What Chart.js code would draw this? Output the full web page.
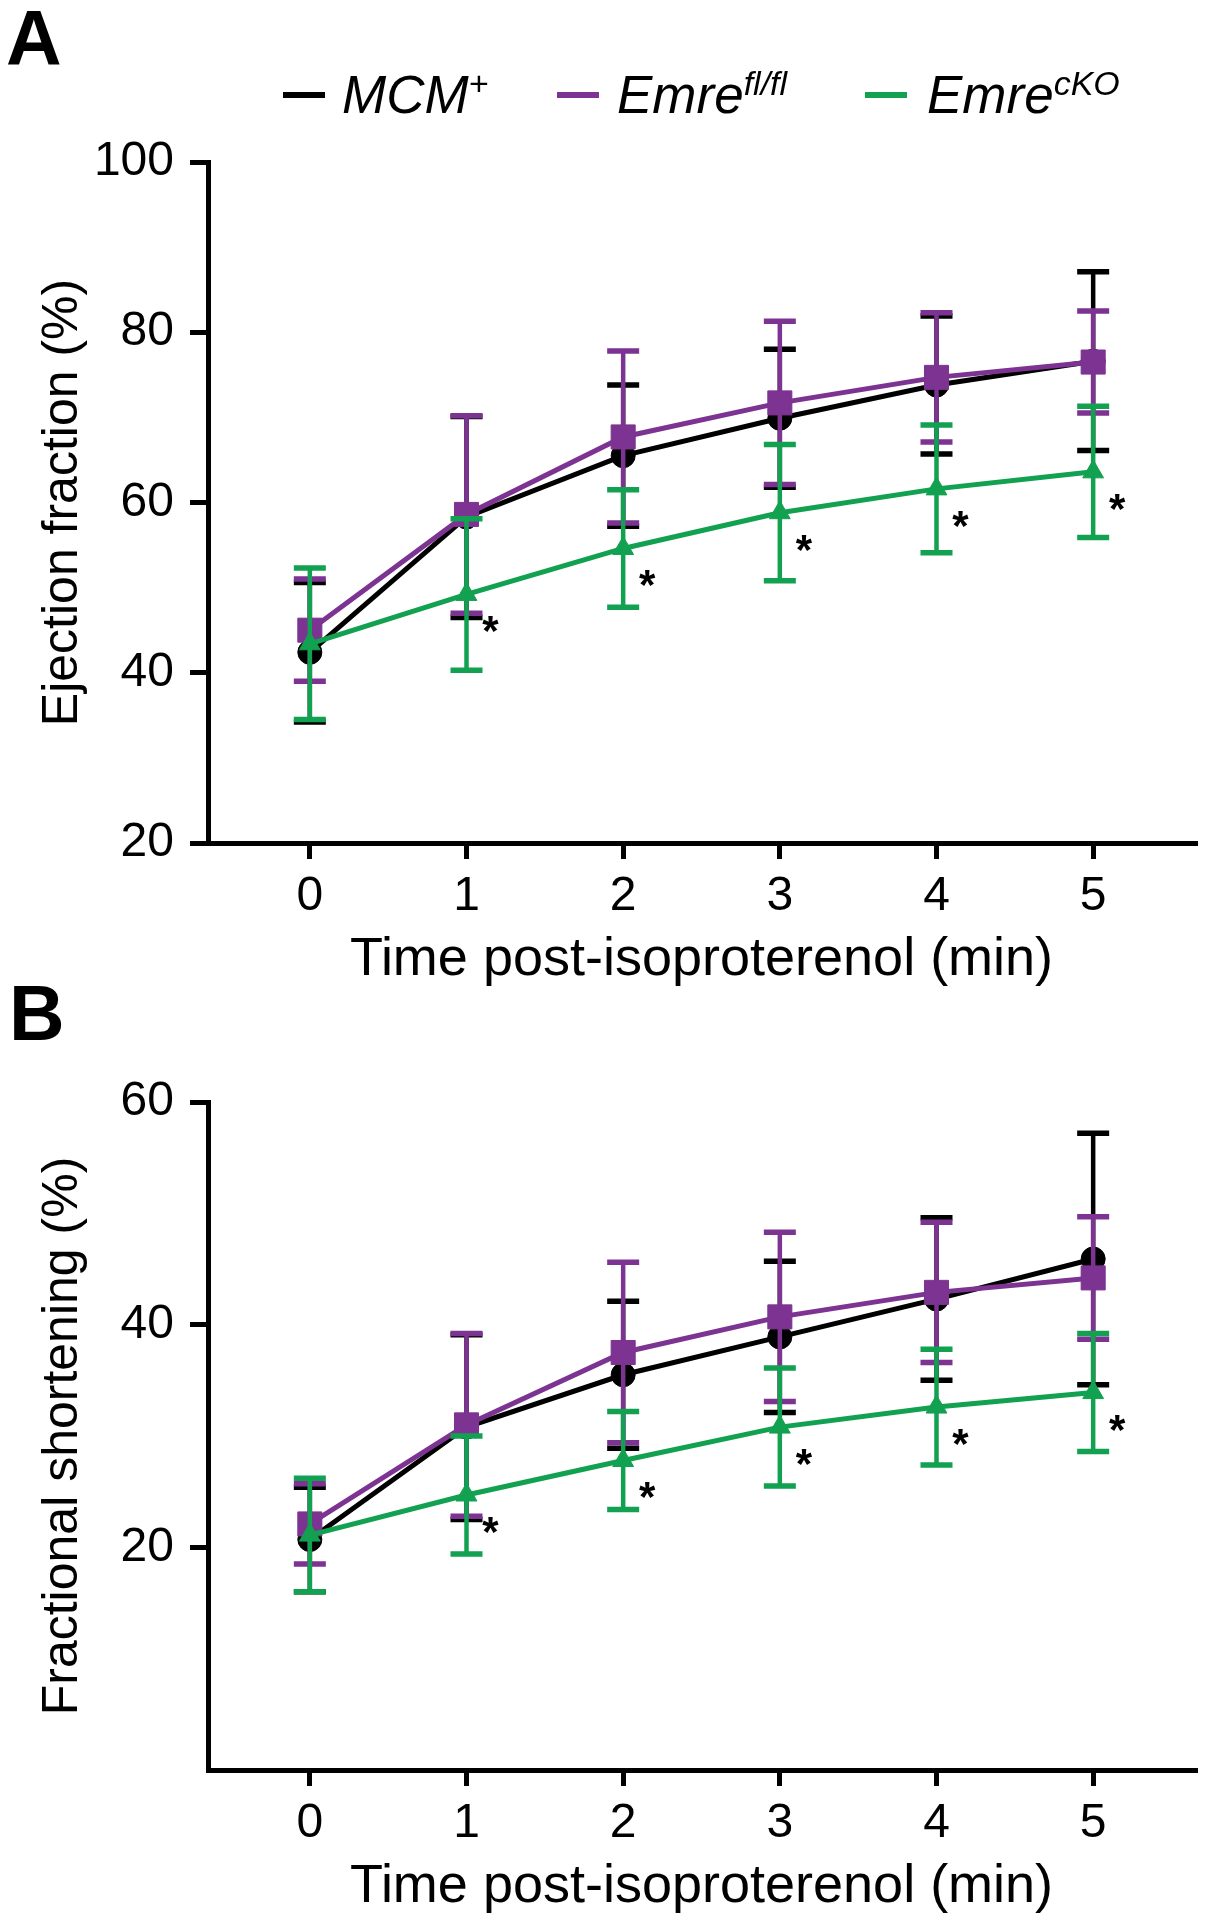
<!DOCTYPE html>
<html><head><meta charset="utf-8">
<script src="https://cdn.jsdelivr.net/npm/chart.js@4.4.0/dist/chart.umd.min.js"></script>
<style>
html,body{margin:0;padding:0;background:#fff;}
body{width:1213px;height:1920px;position:relative;overflow:hidden;font-family:"Liberation Sans",Arial,sans-serif;}
.wrap{position:absolute;left:0;width:1213px;}
#wa{top:0;height:1000px;}
#wb{top:1000px;height:920px;}
.lab{position:absolute;font-weight:bold;font-size:77px;line-height:77px;color:#000;}
.leg{position:absolute;font-style:italic;font-size:53px;line-height:53px;top:68px;color:#000;white-space:nowrap;}
.leg sup{font-size:34px;vertical-align:18px;line-height:0;}
.sw{position:absolute;height:6px;width:42px;top:92px;}
</style></head><body>
<div class="wrap" id="wa"><canvas id="ca"></canvas></div>
<div class="wrap" id="wb"><canvas id="cb"></canvas></div>
<div class="lab" style="left:6px;top:0px">A</div>
<div class="lab" style="left:9px;top:975px">B</div>
<div id="legend"></div>
<script>
// ---------- data ----------
const timePoints = [0, 1, 2, 3, 4, 5];
const xTickLabels = ['0', '1', '2', '3', '4', '5'];

const seriesNames = ['MCM', 'Emre', 'Emre'];
const seriesSup = ['+', 'fl/fl', 'cKO'];
const seriesColors = ['#000000', '#7D3391', '#12A150'];

// Panel A: Ejection fraction (%)
const efTicks = [20, 40, 60, 80, 100];
const efTickLabels = ['20', '40', '60', '80', '100'];
const efMCM = [42.4, 58.3, 65.5, 69.9, 73.8, 76.6];
const efMCMsd = [8.2, 11.8, 8.3, 8.1, 8.1, 10.5];
const efFl = [45.0, 58.6, 67.7, 71.7, 74.7, 76.5];
const efFlsd = [6.0, 11.6, 10.1, 9.6, 7.6, 6.0];
const efCKO = [43.4, 49.2, 54.6, 58.8, 61.6, 63.6];
const efCKOsd = [8.9, 8.9, 6.9, 8.0, 7.5, 7.7];
const efStars = ['', '*', '*', '*', '*', '*'];

// Panel B: Fractional shortening (%)
const fsTicks = [0, 20, 40, 60];
const fsTickLabels = ['', '20', '40', '60'];
const fsMCM = [20.7, 30.8, 35.5, 38.9, 42.3, 45.9];
const fsMCMsd = [4.7, 8.3, 6.6, 6.8, 7.3, 11.3];
const fsFl = [22.1, 31.0, 37.5, 40.7, 42.9, 44.2];
const fsFlsd = [3.6, 8.2, 8.1, 7.6, 6.3, 5.5];
const fsCKO = [21.1, 24.7, 27.8, 30.8, 32.6, 33.9];
const fsCKOsd = [5.1, 5.3, 4.4, 5.3, 5.2, 5.3];
const fsStars = ['', '*', '*', '*', '*', '*'];

// ---------- legend (HTML, real text) ----------
(function(){
  const leg = document.getElementById('legend');
  const swLeft = [283, 557, 865];
  const txLeft = [342, 617, 927];
  seriesNames.forEach((n, i) => {
    const s = document.createElement('div');
    s.className = 'sw'; s.style.left = swLeft[i] + 'px'; s.style.background = seriesColors[i];
    leg.appendChild(s);
    const t = document.createElement('div');
    t.className = 'leg'; t.style.left = txLeft[i] + 'px';
    t.innerHTML = n + '<sup>' + seriesSup[i] + '</sup>';
    leg.appendChild(t);
  });
})();

const FAM = '"Liberation Sans", Arial, sans-serif';

const errorBars = {
  id: 'errorBars',
  beforeDatasetDraw(chart, args) {
    const ds = chart.data.datasets[args.index];
    if (!ds.sd) return;
    const xs = chart.scales.x, ys = chart.scales.y, ctx = chart.ctx;
    ctx.save();
    ctx.strokeStyle = ds.borderColor;
    ctx.lineCap = 'butt';
    ds.data.forEach((p, i) => {
      const x = xs.getPixelForValue(p.x);
      const yt = ys.getPixelForValue(p.y + ds.sd[i]);
      const yb = ys.getPixelForValue(p.y - ds.sd[i]);
      ctx.lineWidth = 4.5;
      ctx.beginPath(); ctx.moveTo(x, yt); ctx.lineTo(x, yb); ctx.stroke();
      ctx.lineWidth = 5.5;
      ctx.beginPath();
      ctx.moveTo(x - 16, yt); ctx.lineTo(x + 16, yt);
      ctx.moveTo(x - 16, yb); ctx.lineTo(x + 16, yb);
      ctx.stroke();
    });
    ctx.restore();
  }
};

const starsPlugin = {
  id: 'stars',
  afterDatasetsDraw(chart) {
    const ctx = chart.ctx, xs = chart.scales.x, ys = chart.scales.y;
    chart.data.datasets.forEach(ds => {
      if (!ds.stars) return;
      ctx.save();
      ctx.fillStyle = '#000';
      ctx.font = 'bold 42px ' + FAM;
      ctx.textAlign = 'center';
      ctx.textBaseline = 'alphabetic';
      ds.data.forEach((p, i) => {
        if (!ds.stars[i]) return;
        const x = xs.getPixelForValue(p.x) + 24;
        const y = ys.getPixelForValue(p.y) + 27 + 24;
        ctx.fillText(ds.stars[i], x, y);
      });
      ctx.restore();
    });
  }
};

function pts(vals) { return vals.map((v, i) => ({ x: timePoints[i], y: v })); }

function makeChart(id, means, sds, stars, yMin, yMax, yTicks, yLabels, yTitle, pad) {
  const styles = [
    { pointStyle: 'circle', pointRadius: 12, order: 3 },
    { pointStyle: 'rect', pointRadius: 17, order: 2 },
    { pointStyle: 'triangle', pointRadius: 12, order: 1 }
  ];
  const datasets = means.map((m, k) => ({
    label: seriesNames[k] + seriesSup[k],
    data: pts(m),
    sd: sds[k],
    stars: k === 2 ? stars : null,
    borderColor: seriesColors[k],
    backgroundColor: seriesColors[k],
    pointBackgroundColor: seriesColors[k],
    pointBorderColor: seriesColors[k],
    pointBorderWidth: 1,
    borderWidth: 5,
    tension: 0,
    clip: false,
    pointStyle: styles[k].pointStyle,
    pointRadius: styles[k].pointRadius,
    order: styles[k].order
  }));
  return new Chart(document.getElementById(id), {
    type: 'line',
    data: { datasets },
    plugins: [errorBars, starsPlugin],
    options: {
      responsive: true, maintainAspectRatio: false, animation: false,
      layout: { padding: pad },
      plugins: { legend: { display: false }, tooltip: { enabled: false } },
      scales: {
        x: {
          type: 'linear', min: -0.65, max: 5.65,
          afterBuildTicks: s => { s.ticks = timePoints.map(v => ({ value: v })); },
          afterFit: s => { s.height = 144; },
          border: { display: true, color: '#000', width: 5 },
          grid: { drawOnChartArea: false, drawTicks: true, tickLength: 16, tickWidth: 5, lineWidth: 5, color: '#000', tickColor: '#000' },
          ticks: { color: '#000', font: { family: FAM, size: 48, lineHeight: 1 }, padding: 14, maxRotation: 0, autoSkip: false,
                   callback: (v, i) => xTickLabels[i] },
          title: { display: true, text: 'Time post-isoproterenol (min)', color: '#000',
                   font: { family: FAM, size: 54, lineHeight: 1 }, padding: { top: 0, bottom: 0 } }
        },
        y: {
          min: yMin, max: yMax,
          afterBuildTicks: s => { s.ticks = yTicks.map(v => ({ value: v })); },
          afterFit: s => { s.width = 208; },
          border: { display: true, color: '#000', width: 5 },
          grid: { drawOnChartArea: false, drawTicks: true, tickLength: 18, tickWidth: 5, lineWidth: 5, color: '#000',
                  tickColor: c => (yLabels[c.index] === '' ? 'rgba(0,0,0,0)' : '#000') },
          ticks: { color: '#000', font: { family: FAM, size: 48, lineHeight: 1 }, padding: 16, autoSkip: false,
                   callback: (v, i) => yLabels[i] },
          title: { display: true, text: yTitle, color: '#000',
                   font: { family: FAM, size: 50, lineHeight: 1 }, padding: { top: 38, bottom: 0 } }
        }
      }
    }
  });
}

makeChart('ca', [efMCM, efFl, efCKO], [efMCMsd, efFlsd, efCKOsd], efStars,
  20, 100, efTicks, efTickLabels, 'Ejection fraction (%)',
  { top: 162, left: 0, right: 13, bottom: 13 });
makeChart('cb', [fsMCM, fsFl, fsCKO], [fsMCMsd, fsFlsd, fsCKOsd], fsStars,
  0, 60, fsTicks, fsTickLabels, 'Fractional shortening (%)',
  { top: 102, left: 0, right: 13, bottom: 6 });
</script>
</body></html>
